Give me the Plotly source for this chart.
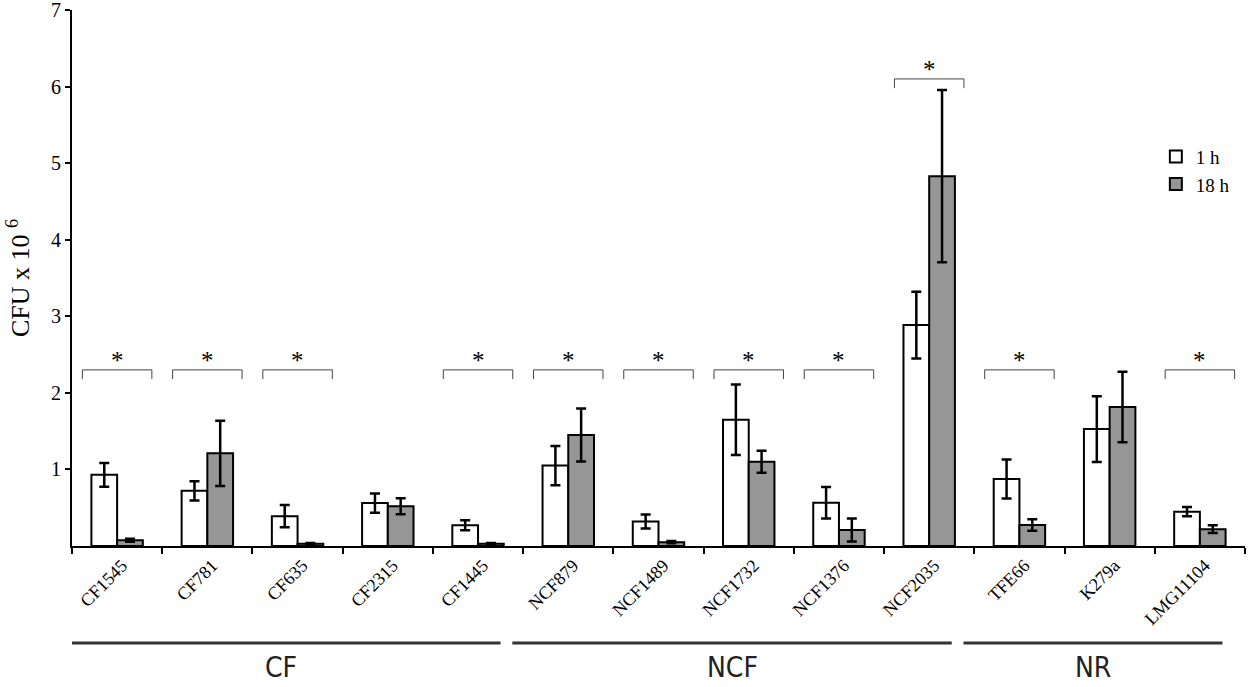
import plotly.graph_objects as go

strains = ["CF1545", "CF781", "CF635", "CF2315", "CF1445",
           "NCF879", "NCF1489", "NCF1732", "NCF1376", "NCF2035",
           "TFE66", "K279a", "LMG11104"]
h1_values = [0.93, 0.72, 0.39, 0.56, 0.27, 1.05, 0.32, 1.65, 0.565, 2.885, 0.875, 1.527, 0.448]
h1_errors = [0.155, 0.125, 0.145, 0.125, 0.065, 0.255, 0.09, 0.46, 0.205, 0.435, 0.255, 0.43, 0.06]
h18_values = [0.074, 1.21, 0.03, 0.52, 0.03, 1.45, 0.05, 1.10, 0.21, 4.83, 0.274, 1.815, 0.22]
h18_errors = [0.02, 0.425, 0.01, 0.105, 0.01, 0.345, 0.015, 0.145, 0.15, 1.125, 0.075, 0.46, 0.05]
significant = ["CF1545", "CF781", "CF635", "CF1445", "NCF879", "NCF1489",
               "NCF1732", "NCF1376", "NCF2035", "TFE66", "LMG11104"]
bracket_levels = [2.30, 2.30, 2.30, 2.30, 2.30, 2.30, 2.30, 2.30, 6.10, 2.30, 2.30]
groups = ["CF", "NCF", "NR"]
group_sizes = [5, 5, 3]
y_ticks = [1, 2, 3, 4, 5, 6, 7]

SERIF = "Liberation Serif, Times New Roman, serif"
SANS_NARROW = "Liberation Sans Narrow, DejaVu Sans Condensed, Open Sans, sans-serif"

fig = go.Figure()
fig.add_trace(go.Bar(
    x=strains, y=h1_values, name="1 h",
    marker=dict(color="white", line=dict(color="black", width=2)),
    error_y=dict(type="data", array=h1_errors, color="black", thickness=2.5, width=5),
))
fig.add_trace(go.Bar(
    x=strains, y=h18_values, name="18 h",
    marker=dict(color="#969696", line=dict(color="black", width=2)),
    error_y=dict(type="data", array=h18_errors, color="black", thickness=2.5, width=5),
))

shapes = []
annotations = []
half = 0.385
for name, lvl in zip(significant, bracket_levels):
    i = strains.index(name)
    drop = 0.12
    lc = dict(color="#444", width=1)
    shapes.append(dict(type="line", xref="x", yref="y", x0=i - half, x1=i + half, y0=lvl, y1=lvl, line=lc))
    shapes.append(dict(type="line", xref="x", yref="y", x0=i - half, x1=i - half, y0=lvl, y1=lvl - drop, line=lc))
    shapes.append(dict(type="line", xref="x", yref="y", x0=i + half, x1=i + half, y0=lvl, y1=lvl - drop, line=lc))
    annotations.append(dict(x=i, y=lvl + 0.12, xref="x", yref="y", text="*", showarrow=False,
                            font=dict(family=SERIF, size=25, color="black"), yanchor="middle"))

start = 0
for g, n in zip(groups, group_sizes):
    first, last = start, start + n - 1
    x0 = first - 0.62
    x1 = last + 0.25
    shapes.append(dict(type="line", xref="x", yref="paper", x0=x0, x1=x1, y0=-0.181, y1=-0.181,
                       line=dict(color="#333", width=3)))
    annotations.append(dict(x=(x0 + x1) / 2, y=-0.226, xref="x", yref="paper", text=g, showarrow=False,
                            font=dict(family=SANS_NARROW, size=28, color="#222"),
                            yanchor="middle"))
    start += n

fig.update_layout(
    width=1255, height=687,
    margin=dict(l=72, r=10, t=10, b=141, autoexpand=False),
    plot_bgcolor="white", paper_bgcolor="white",
    barmode="group", bargap=0.43, bargroupgap=0,
    font=dict(family=SERIF, color="black"),
    shapes=shapes, annotations=annotations,
    legend=dict(x=0.924, y=0.762, xanchor="left", yanchor="top",
                font=dict(family=SERIF, size=19), bgcolor="rgba(0,0,0,0)",
                itemwidth=30),
    showlegend=True,
)
fig.update_xaxes(
    type="category", tickson="boundaries", ticks="outside", ticklen=6, tickwidth=2,
    tickcolor="black", showline=True, linewidth=2, linecolor="black",
    tickangle=-45, tickfont=dict(family=SERIF, size=18), ticklabelshift=5,
    showgrid=False, range=[-0.5, 12.5], automargin=False,
)
fig.update_yaxes(
    range=[0, 7], tickvals=y_ticks, ticks="outside", ticklen=5, tickwidth=2,
    tickcolor="black", showline=True, linewidth=2, linecolor="black",
    tickfont=dict(family=SERIF, size=20), showgrid=False, zeroline=False,
    ticklabeloverflow="allow", automargin=False,
    title=dict(text="CFU x 10 <sup>6</sup>", font=dict(family=SERIF, size=26), standoff=14),
)

fig.write_html("out.html", config={"displayModeBar": False},
               post_script="document.body.style.margin='0';document.body.style.overflow='hidden';")
